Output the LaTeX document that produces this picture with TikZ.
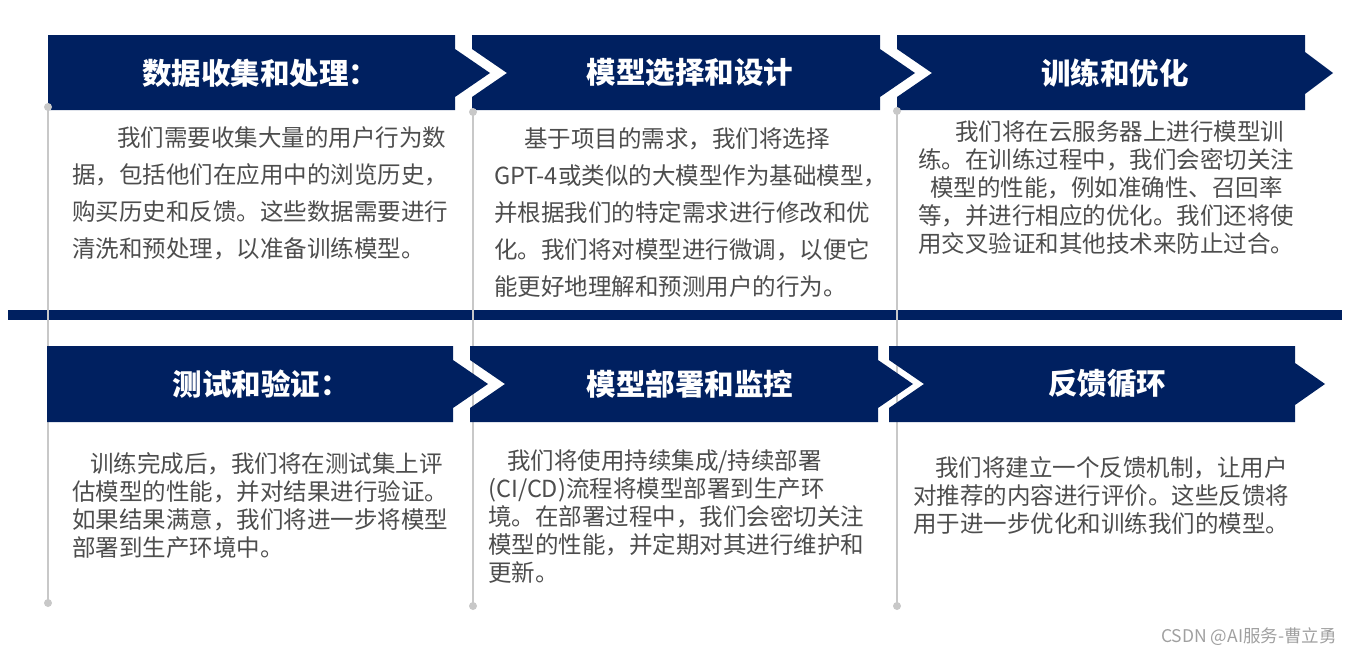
\documentclass[tikz,border=0pt]{standalone}
\usepackage{fontspec}
\usepackage{tikz}
\usetikzlibrary{positioning}
\newfontfamily\cjk{Noto Sans CJK SC}
\definecolor{cNavy}{HTML}{002060}
\definecolor{cRule}{HTML}{C8C8C8}
\definecolor{cInk}{HTML}{4D4D4D}
\definecolor{cMark}{HTML}{A0A0A0}
\tikzset{
  hdr/.style ={fill=cNavy},
  htxt/.style={text=white,inner sep=0pt,font=\cjk\bfseries\fontsize{29.5}{31}\selectfont},
  body/.style={text=cInk,align=left,anchor=north west,inner sep=0pt,
               font=\cjk\fontsize{23.5}{28}\selectfont},
  wide/.style={font=\cjk\fontsize{23.5}{37}\selectfont},
  rule/.style={cRule,line width=2pt},
}

\begin{document}
\begin{tikzpicture}[x=1pt,y=-1pt]
\useasboundingbox (0,0) rectangle (1360,656);
% middle bar
\fill[cNavy] (8,310) rectangle (1342,320);
% grey time lines
\coordinate (t1) at (48,107);  \coordinate (b1) at (48,603);
\coordinate (t2) at (473,112); \coordinate (b2) at (473,606);
\coordinate (t3) at (897,111); \coordinate (b3) at (897,606);
\draw[rule] (t1)--(b1);
\draw[rule] (t2)--(b2);
\draw[rule] (t3)--(b3);
% top row headers
\fill[hdr] (48,35)--(455,35)--(455,49)--(490,73)--(455,97)--(455,110)--(48,110)--cycle;
\fill[hdr] (472,35)--(880,35)--(880,49)--(915,73)--(880,97)--(880,110)--(472,110)
           --(472,97)--(507,73)--(472,49)--cycle;
\fill[hdr] (897,35)--(1305,35)--(1305,52)--(1333,73)--(1305,94)--(1305,110)--(897,110)
           --(897,97)--(932,73)--(897,49)--cycle;
% bottom row headers
\fill[hdr] (47,346)--(453,346)--(453,360)--(488,384)--(453,408)--(453,422)--(47,422)--cycle;
\fill[hdr] (470,346)--(878,346)--(878,360)--(913,384)--(878,408)--(878,422)--(470,422)
           --(470,408)--(505,384)--(470,360)--cycle;
\fill[hdr] (889,346)--(1295,346)--(1295,363)--(1325,384)--(1295,405)--(1295,422)--(889,422)
           --(889,408)--(924,384)--(889,360)--cycle;
\foreach \p in {t1,b1,t2,b2,t3,b3} \fill[cRule] (\p) circle (4pt);
% header labels
\node[htxt] (h1) at (260,73)  {数据收集和处理：};
\node[htxt] (h2) at (690,73)  {模型选择和设计};
\node[htxt] (h3) at (1115,73) {训练和优化};
\node[htxt] (h4) at (261,384) {测试和验证：};
\node[htxt] (h5) at (690,384) {模型部署和监控};
\node[htxt] (h6) at (1107,384){反馈循环};
% texts
\node[body,wide] (d1) at (72,126) {\hspace*{45pt}我们需要收集大量的用户行为数\\据，包括他们在应用中的浏览历史，\\购买历史和反馈。这些数据需要进行\\清洗和预处理，以准备训练模型。};
\node[body,wide] (d2) at (494,127) {\hspace*{30pt}基于项目的需求，我们将选择\\GPT-4或类似的大模型作为基础模型，\\并根据我们的特定需求进行修改和优\\化。我们将对模型进行微调，以便它\\能更好地理解和预测用户的行为。};
\node[body] (d3) at (918,121) {\hspace*{37pt}我们将在云服务器上进行模型训\\练。在训练过程中，我们会密切关注\\\hspace*{12pt}模型的性能，例如准确性、召回率\\等，并进行相应的优化。我们还将使\\用交叉验证和其他技术来防止过合。};
\node[body] (d4) at (72,452) {\hspace*{18pt}训练完成后，我们将在测试集上评\\估模型的性能，并对结果进行验证。\\如果结果满意，我们将进一步将模型\\部署到生产环境中。};
\node[body] (d5) at (488,449) {\hspace*{19pt}我们将使用持续集成/持续部署\\(CI/CD)流程将模型部署到生产环\\境。在部署过程中，我们会密切关注\\模型的性能，并定期对其进行维护和\\更新。};
\node[body] (d6) at (913,456) {\hspace*{22pt}我们将建立一个反馈机制，让用户\\对推荐的内容进行评价。这些反馈将\\用于进一步优化和训练我们的模型。};
\node[text=cMark,font=\cjk\fontsize{17.5}{19}\selectfont] (wm) at (1249,637) {CSDN @AI服务-曹立勇};
\end{tikzpicture}
\end{document}
